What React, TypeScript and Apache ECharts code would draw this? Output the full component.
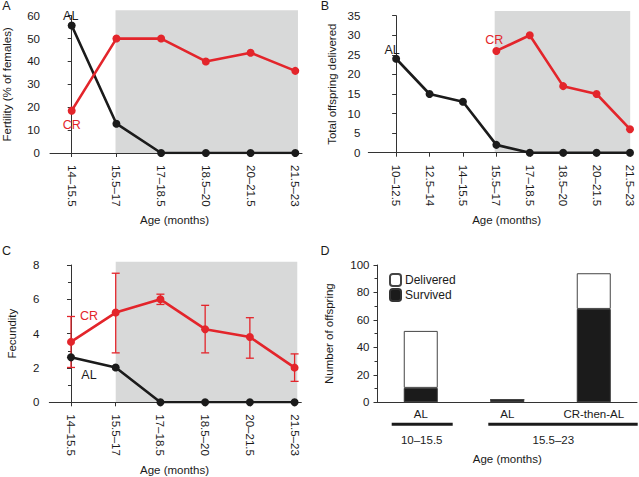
import React, { useEffect, useRef } from "react";
import * as echarts from "echarts";

// ---- data ----
const catsA = ["14–15.5", "15.5–17", "17–18.5", "18.5–20", "20–21.5", "21.5–23"];
const fertilityAL = [55.7, 12.8, 0, 0, 0, 0];
const fertilityCR = [18.5, 50, 50, 40, 43.8, 35.9];

const catsB = ["10–12.5", "12.5–14", "14–15.5", "15.5–17", "17–18.5", "18.5–20", "20–21.5", "21.5–23"];
const offspringAL = [24, 15, 13, 2, 0, 0, 0, 0];
const offspringCR: (number | null)[] = [null, null, null, 26, 30, 17, 15, 6];

const catsC = catsA;
const fecundityAL = [2.62, 2.03, 0, 0, 0, 0];
const fecundityCR = [3.52, 5.23, 6.0, 4.26, 3.8, 2.02];
const fecundityCRLow = [2.03, 2.88, 5.7, 2.88, 2.57, 1.22];
const fecundityCRHigh = [5.0, 7.52, 6.3, 5.65, 4.93, 2.82];

const groupsD = ["AL", "AL", "CR-then-AL"];
const deliveredD = [52, 2, 94];
const survivedD = [10.5, 2, 68];
const ageGroupsD = ["10–15.5", "15.5–23"];

const yTicksA = [0, 60, 10];
const yTicksB = [0, 35, 5];
const yTicksC = [0, 8, 2];
const yTicksD = [0, 100, 20];

const RED = "#e3252b";
const BLACK = "#1b1b1b";
const GRAY = "#d8d9d9";
const AXIS = "#333333";
const FONT = "'Liberation Sans', Arial, Helvetica, sans-serif";

function pts(vals: (number | null)[], labelAt: number, text: string, offset: number[], color: string) {
  const out: any[] = [];
  vals.forEach((v, i) => {
    if (v === null) return;
    if (i === labelAt) {
      out.push({
        value: [i, v],
        label: { show: true, formatter: text, position: "inside", offset, color, fontSize: 12.5, fontFamily: FONT },
      });
    } else out.push([i, v]);
  });
  return out;
}

function shade(x0: number, x1: number, top: number, xi: number) {
  return {
    type: "custom",
    xAxisIndex: xi,
    yAxisIndex: xi,
    z: 0,
    silent: true,
    clip: false,
    encode: { x: [0, 1], y: 2 },
    data: [[x0, x1, top]],
    renderItem: (params: any, api: any) => {
      const p0 = api.coord([api.value(0), api.value(2)]);
      const p1 = api.coord([api.value(1), 0]);
      return {
        type: "rect",
        shape: { x: p0[0], y: p0[1], width: p1[0] - p0[0], height: p1[1] - p0[1] },
        style: { fill: GRAY },
      };
    },
  };
}

function lineSeries(data: any[], color: string, xi: number) {
  return {
    type: "line",
    xAxisIndex: xi,
    yAxisIndex: xi,
    data,
    z: 3,
    symbol: "circle",
    symbolSize: 8,
    itemStyle: { color },
    lineStyle: { color, width: 2.6 },
    label: { show: false },
  };
}

function valueX(min: number, max: number, n: number, cats: string[], gi: number) {
  const idx = Array.from({ length: n }, (_, i) => i);
  return {
    type: "value",
    gridIndex: gi,
    min,
    max,
    z: 1,
    splitLine: { show: false },
    axisLine: { show: true, lineStyle: { color: AXIS, width: 1 } },
    axisTick: { show: true, customValues: idx, length: 4, lineStyle: { color: AXIS } },
    axisLabel: {
      customValues: idx,
      rotate: -90,
      margin: 12,
      color: "#1a1a1a",
      fontSize: 11.5,
      fontFamily: FONT,
      formatter: (v: number) => cats[Math.round(v)],
    },
  };
}

function valueY(ticks: number[], gi: number, name: string, nameGap: number, margin: number, minor: boolean) {
  return {
    type: "value",
    gridIndex: gi,
    min: ticks[0],
    max: ticks[1],
    interval: ticks[2],
    z: 1,
    splitLine: { show: false },
    minorTick: { show: minor, splitNumber: 2, length: 3, lineStyle: { color: AXIS } },
    minorSplitLine: { show: false },
    axisLine: { show: true, lineStyle: { color: AXIS, width: 1 } },
    axisTick: { show: true, length: 4, lineStyle: { color: AXIS } },
    axisLabel: { margin, color: "#1a1a1a", fontSize: 11.5, fontFamily: FONT },
    name,
    nameLocation: "middle",
    nameGap,
    nameMoveOverlap: false,
    nameTextStyle: { color: "#1a1a1a", fontSize: 11.5, fontFamily: FONT },
  };
}

export default function App() {
  const ref = useRef<HTMLDivElement>(null);
  useEffect(() => {
    document.body.style.margin = "0";
    const chart = echarts.init(ref.current!, null, { renderer: "svg" });
    const text = (t: string, x: number, y: number, size: number) => ({
      type: "text",
      style: { text: t, x, y, fill: "#1a1a1a", font: `${size}px ${FONT}`, align: "center", verticalAlign: "middle" },
    });
    const groupLine = (x1: number, x2: number, y: number) => ({
      type: "line",
      shape: { x1, y1: y, x2, y2: y },
      style: { stroke: BLACK, lineWidth: 3 },
    });

    const errData = fecundityCR.map((v, i) => [i, fecundityCRLow[i], fecundityCRHigh[i]]);

    const option: any = {
      animation: false,
      backgroundColor: "#ffffff",
      textStyle: { fontFamily: FONT },
      grid: [
        { left: 50, top: 15.7, width: 252, height: 137.3, outerBoundsMode: "none", containLabel: false },
        { left: 368.3, top: 15.7, width: 262.7, height: 137, outerBoundsMode: "none", containLabel: false },
        { left: 49.3, top: 265, width: 252, height: 137.3, outerBoundsMode: "none", containLabel: false },
        { left: 377.5, top: 265, width: 259.5, height: 137.3, outerBoundsMode: "none", containLabel: false },
      ],
      xAxis: [
        valueX(-0.485, 5.15, catsA.length, catsA, 0),
        valueX(-0.833, 7.03, catsB.length, catsB, 1),
        valueX(-0.485, 5.15, catsC.length, catsC, 2),
        {
          type: "category",
          gridIndex: 3,
          data: groupsD,
          boundaryGap: true,
          z: 1,
          axisLine: { show: true, lineStyle: { color: AXIS, width: 1 } },
          axisTick: { show: false },
          axisLabel: { margin: 6, color: "#1a1a1a", fontSize: 11.5, fontFamily: FONT, interval: 0 },
          name: "Age (months)",
          nameLocation: "middle",
          nameGap: 51,
          nameMoveOverlap: false,
          nameTextStyle: { color: "#1a1a1a", fontSize: 11.5, fontFamily: FONT },
        },
      ],
      yAxis: [
        valueY(yTicksA, 0, "Fertility (% of females)", 37, 10, false),
        valueY(yTicksB, 1, "Total offspring delivered", 30, 8, false),
        valueY(yTicksC, 2, "Fecundity", 31, 10, true),
        valueY(yTicksD, 3, "Number of offspring", 43, 8, true),
      ],
      legend: {
        orient: "vertical",
        left: 389,
        top: 273,
        itemWidth: 11,
        itemHeight: 12,
        itemGap: 1,
        padding: 0,
        selectedMode: false,
        data: ["Delivered", "Survived"],
        textStyle: { color: "#1a1a1a", fontSize: 12, fontFamily: FONT, padding: [0, 0, 0, -1] },
      },
      series: [
        shade(0.98, 5.06, 62.4, 0),
        lineSeries(pts(fertilityAL, 0, "AL", [-1, -10], BLACK), BLACK, 0),
        lineSeries(pts(fertilityCR, 0, "CR", [0, 14], RED), RED, 0),

        shade(2.95, 7.006, 36.2, 1),
        lineSeries(pts(offspringAL, 0, "AL", [-4, -9], BLACK), BLACK, 1),
        lineSeries(pts(offspringCR, 3, "CR", [-2, -11], RED), RED, 1),

        shade(1.0, 5.06, 8.19, 2),
        {
          type: "custom",
          xAxisIndex: 2,
          yAxisIndex: 2,
          z: 2,
          silent: true,
          encode: { x: 0, y: [1, 2] },
          data: errData,
          renderItem: (params: any, api: any) => {
            const x = api.value(0);
            const pl = api.coord([x, api.value(1)]);
            const ph = api.coord([x, api.value(2)]);
            const w = 4;
            const st = { stroke: RED, lineWidth: 1.3 };
            return {
              type: "group",
              children: [
                { type: "line", shape: { x1: pl[0], y1: pl[1], x2: ph[0], y2: ph[1] }, style: st },
                { type: "line", shape: { x1: ph[0] - w, y1: ph[1], x2: ph[0] + w, y2: ph[1] }, style: st },
                { type: "line", shape: { x1: pl[0] - w, y1: pl[1], x2: pl[0] + w, y2: pl[1] }, style: st },
              ],
            };
          },
        },
        lineSeries(pts(fecundityAL, 0, "AL", [18, 18], BLACK), BLACK, 2),
        lineSeries(pts(fecundityCR, 0, "CR", [18, -25.5], RED), RED, 2),

        {
          type: "bar",
          name: "Survived",
          xAxisIndex: 3,
          yAxisIndex: 3,
          stack: "d",
          barWidth: 34,
          data: survivedD,
          itemStyle: { color: BLACK, borderColor: "#333333", borderWidth: 1 },
        },
        {
          type: "bar",
          name: "Delivered",
          xAxisIndex: 3,
          yAxisIndex: 3,
          stack: "d",
          barWidth: 34,
          data: deliveredD.map((v, i) => v - survivedD[i]),
          itemStyle: { color: "#ffffff", borderColor: "#444444", borderWidth: 1 },
        },
      ],
      graphic: [
        text("A", 6.5, 6, 12.5),
        text("B", 325, 6, 12.5),
        text("C", 6.5, 251, 12.5),
        text("D", 325, 251, 12.5),
        text("Age (months)", 174.5, 220, 11.5),
        text("Age (months)", 506.7, 220, 11.5),
        text("Age (months)", 174.5, 470, 11.5),
        groupLine(391.7, 452.7, 424.3),
        groupLine(488.3, 637.7, 424.3),
        text(ageGroupsD[0], 421.7, 440, 11.5),
        text(ageGroupsD[1], 553.3, 440, 11.5),
      ],
    };
    chart.setOption(option);
    return () => chart.dispose();
  }, []);
  return <div ref={ref} style={{ width: 639, height: 477 }} />;
}
